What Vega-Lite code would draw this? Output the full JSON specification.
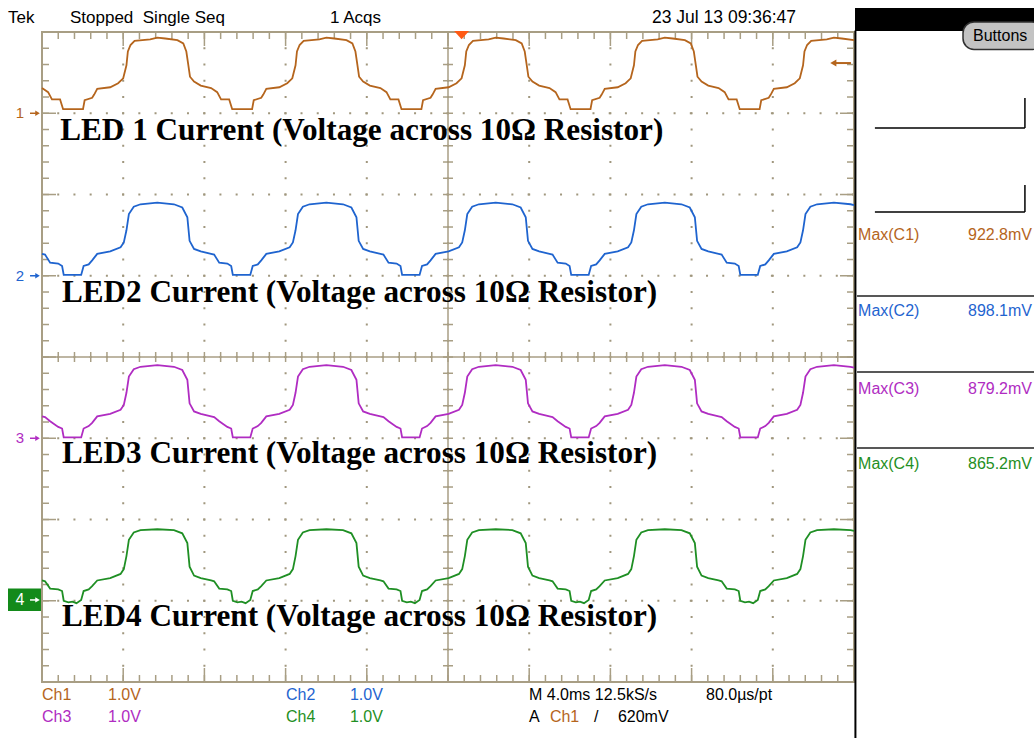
{
"$schema":"https://vega.github.io/schema/vega-lite/v6.json",
"width":1034,"height":738,"padding":0,"autosize":"none","background":"white",
"config":{"view":{"stroke":null},"axis":{"disable":true},"legend":{"disable":true}},
"datasets":{
"xm":[{"t":0},{"t":0.8},{"t":1.6},{"t":2.4},{"t":3.2},{"t":4},{"t":4.8},{"t":5.6},{"t":6.4},{"t":7.2},{"t":8},{"t":8.8},{"t":9.6},{"t":10.4},{"t":11.2},{"t":12},{"t":12.8},{"t":13.6},{"t":14.4},{"t":15.2},{"t":16},{"t":16.8},{"t":17.6},{"t":18.4},{"t":19.2},{"t":20},{"t":20.8},{"t":21.6},{"t":22.4},{"t":23.2},{"t":24},{"t":24.8},{"t":25.6},{"t":26.4},{"t":27.2},{"t":28},{"t":28.8},{"t":29.6},{"t":30.4},{"t":31.2},{"t":32},{"t":32.8},{"t":33.6},{"t":34.4},{"t":35.2},{"t":36},{"t":36.8},{"t":37.6},{"t":38.4},{"t":39.2},{"t":40}],
"xM":[{"t":4},{"t":8},{"t":12},{"t":16},{"t":20},{"t":24},{"t":28},{"t":32},{"t":36}],
"ym":[{"v":0},{"v":0.2},{"v":0.4},{"v":0.6},{"v":0.8},{"v":1},{"v":1.2},{"v":1.4},{"v":1.6},{"v":1.8},{"v":2},{"v":2.2},{"v":2.4},{"v":2.6},{"v":2.8},{"v":3},{"v":3.2},{"v":3.4},{"v":3.6},{"v":3.8},{"v":4},{"v":4.2},{"v":4.4},{"v":4.6},{"v":4.8},{"v":5},{"v":5.2},{"v":5.4},{"v":5.6},{"v":5.8},{"v":6},{"v":6.2},{"v":6.4},{"v":6.6},{"v":6.8},{"v":7},{"v":7.2},{"v":7.4},{"v":7.6},{"v":7.8},{"v":8}],
"yM":[{"v":1},{"v":2},{"v":3},{"v":4},{"v":5},{"v":6},{"v":7}],
"ch1":[{"t":0,"y":7.31},{"t":0.3,"y":7.26},{"t":0.49,"y":7.17},{"t":0.89,"y":7.17},{"t":1.04,"y":7.05},{"t":2.02,"y":7.05},{"t":2.1,"y":7.16},{"t":2.47,"y":7.19},{"t":2.57,"y":7.23},{"t":2.72,"y":7.3},{"t":3.36,"y":7.32},{"t":3.75,"y":7.37},{"t":4,"y":7.43},{"t":4.16,"y":7.59},{"t":4.23,"y":7.76},{"t":4.36,"y":7.84},{"t":4.56,"y":7.89},{"t":5.33,"y":7.91},{"t":5.68,"y":7.93},{"t":6.07,"y":7.92},{"t":6.67,"y":7.9},{"t":6.96,"y":7.86},{"t":7.11,"y":7.76},{"t":7.21,"y":7.59},{"t":7.29,"y":7.45},{"t":7.49,"y":7.39},{"t":7.82,"y":7.34},
{"t":8.33,"y":7.31},{"t":8.63,"y":7.26},{"t":8.82,"y":7.17},{"t":9.22,"y":7.17},{"t":9.37,"y":7.05},{"t":10.35,"y":7.05},{"t":10.43,"y":7.16},{"t":10.8,"y":7.19},{"t":10.9,"y":7.23},{"t":11.05,"y":7.3},{"t":11.69,"y":7.32},{"t":12.08,"y":7.37},{"t":12.33,"y":7.43},{"t":12.49,"y":7.59},{"t":12.56,"y":7.76},{"t":12.69,"y":7.84},{"t":12.89,"y":7.89},{"t":13.66,"y":7.91},{"t":14.01,"y":7.93},{"t":14.4,"y":7.92},{"t":15,"y":7.9},{"t":15.29,"y":7.86},{"t":15.44,"y":7.76},{"t":15.54,"y":7.59},{"t":15.62,"y":7.45},{"t":15.82,"y":7.39},{"t":16.15,"y":7.34},
{"t":16.67,"y":7.31},{"t":16.97,"y":7.26},{"t":17.16,"y":7.17},{"t":17.56,"y":7.17},{"t":17.71,"y":7.05},{"t":18.69,"y":7.05},{"t":18.77,"y":7.16},{"t":19.14,"y":7.19},{"t":19.24,"y":7.23},{"t":19.39,"y":7.3},{"t":20.03,"y":7.32},{"t":20.42,"y":7.37},{"t":20.67,"y":7.43},{"t":20.83,"y":7.59},{"t":20.9,"y":7.76},{"t":21.03,"y":7.84},{"t":21.23,"y":7.89},{"t":22,"y":7.91},{"t":22.35,"y":7.93},{"t":22.74,"y":7.92},{"t":23.34,"y":7.9},{"t":23.63,"y":7.86},{"t":23.78,"y":7.76},{"t":23.88,"y":7.59},{"t":23.96,"y":7.45},{"t":24.16,"y":7.39},{"t":24.49,"y":7.34},
{"t":25,"y":7.31},{"t":25.3,"y":7.26},{"t":25.49,"y":7.17},{"t":25.89,"y":7.17},{"t":26.04,"y":7.05},{"t":27.02,"y":7.05},{"t":27.1,"y":7.16},{"t":27.47,"y":7.19},{"t":27.57,"y":7.23},{"t":27.72,"y":7.3},{"t":28.36,"y":7.32},{"t":28.75,"y":7.37},{"t":29,"y":7.43},{"t":29.16,"y":7.59},{"t":29.23,"y":7.76},{"t":29.36,"y":7.84},{"t":29.56,"y":7.89},{"t":30.33,"y":7.91},{"t":30.68,"y":7.93},{"t":31.07,"y":7.92},{"t":31.67,"y":7.9},{"t":31.96,"y":7.86},{"t":32.11,"y":7.76},{"t":32.21,"y":7.59},{"t":32.29,"y":7.45},{"t":32.49,"y":7.39},{"t":32.82,"y":7.34},
{"t":33.33,"y":7.31},{"t":33.63,"y":7.26},{"t":33.82,"y":7.17},{"t":34.22,"y":7.17},{"t":34.37,"y":7.05},{"t":35.35,"y":7.05},{"t":35.43,"y":7.16},{"t":35.8,"y":7.19},{"t":35.9,"y":7.23},{"t":36.05,"y":7.3},{"t":36.69,"y":7.32},{"t":37.08,"y":7.37},{"t":37.33,"y":7.43},{"t":37.49,"y":7.59},{"t":37.56,"y":7.76},{"t":37.69,"y":7.84},{"t":37.89,"y":7.89},{"t":38.66,"y":7.91},{"t":39.01,"y":7.93},{"t":39.4,"y":7.92},{"t":40,"y":7.9}],
"ch2":[{"t":0,"y":5.27},{"t":0.15,"y":5.26},{"t":0.4,"y":5.16},{"t":0.8,"y":5.15},{"t":0.99,"y":5.12},{"t":1.07,"y":5.01},{"t":1.93,"y":5.01},{"t":2.05,"y":5.12},{"t":2.3,"y":5.14},{"t":2.47,"y":5.19},{"t":2.72,"y":5.27},{"t":3.36,"y":5.3},{"t":3.87,"y":5.35},{"t":4.03,"y":5.41},{"t":4.16,"y":5.56},{"t":4.28,"y":5.76},{"t":4.52,"y":5.85},{"t":4.85,"y":5.88},{"t":5.68,"y":5.9},{"t":6.5,"y":5.88},{"t":6.91,"y":5.84},{"t":7.16,"y":5.72},{"t":7.27,"y":5.43},{"t":7.49,"y":5.33},{"t":7.82,"y":5.3},
{"t":8.33,"y":5.27},{"t":8.48,"y":5.26},{"t":8.73,"y":5.16},{"t":9.13,"y":5.15},{"t":9.32,"y":5.12},{"t":9.4,"y":5.01},{"t":10.26,"y":5.01},{"t":10.38,"y":5.12},{"t":10.63,"y":5.14},{"t":10.8,"y":5.19},{"t":11.05,"y":5.27},{"t":11.69,"y":5.3},{"t":12.2,"y":5.35},{"t":12.36,"y":5.41},{"t":12.49,"y":5.56},{"t":12.61,"y":5.76},{"t":12.85,"y":5.85},{"t":13.18,"y":5.88},{"t":14.01,"y":5.9},{"t":14.83,"y":5.88},{"t":15.24,"y":5.84},{"t":15.49,"y":5.72},{"t":15.6,"y":5.43},{"t":15.82,"y":5.33},{"t":16.15,"y":5.3},
{"t":16.67,"y":5.27},{"t":16.82,"y":5.26},{"t":17.07,"y":5.16},{"t":17.47,"y":5.15},{"t":17.66,"y":5.12},{"t":17.74,"y":5.01},{"t":18.6,"y":5.01},{"t":18.72,"y":5.12},{"t":18.97,"y":5.14},{"t":19.14,"y":5.19},{"t":19.39,"y":5.27},{"t":20.03,"y":5.3},{"t":20.54,"y":5.35},{"t":20.7,"y":5.41},{"t":20.83,"y":5.56},{"t":20.95,"y":5.76},{"t":21.19,"y":5.85},{"t":21.52,"y":5.88},{"t":22.35,"y":5.9},{"t":23.17,"y":5.88},{"t":23.58,"y":5.84},{"t":23.83,"y":5.72},{"t":23.94,"y":5.43},{"t":24.16,"y":5.33},{"t":24.49,"y":5.3},
{"t":25,"y":5.27},{"t":25.15,"y":5.26},{"t":25.4,"y":5.16},{"t":25.8,"y":5.15},{"t":25.99,"y":5.12},{"t":26.07,"y":5.01},{"t":26.93,"y":5.01},{"t":27.05,"y":5.12},{"t":27.3,"y":5.14},{"t":27.47,"y":5.19},{"t":27.72,"y":5.27},{"t":28.36,"y":5.3},{"t":28.87,"y":5.35},{"t":29.03,"y":5.41},{"t":29.16,"y":5.56},{"t":29.28,"y":5.76},{"t":29.52,"y":5.85},{"t":29.85,"y":5.88},{"t":30.68,"y":5.9},{"t":31.5,"y":5.88},{"t":31.91,"y":5.84},{"t":32.16,"y":5.72},{"t":32.27,"y":5.43},{"t":32.49,"y":5.33},{"t":32.82,"y":5.3},
{"t":33.33,"y":5.27},{"t":33.48,"y":5.26},{"t":33.73,"y":5.16},{"t":34.13,"y":5.15},{"t":34.32,"y":5.12},{"t":34.4,"y":5.01},{"t":35.26,"y":5.01},{"t":35.38,"y":5.12},{"t":35.63,"y":5.14},{"t":35.8,"y":5.19},{"t":36.05,"y":5.27},{"t":36.69,"y":5.3},{"t":37.2,"y":5.35},{"t":37.36,"y":5.41},{"t":37.49,"y":5.56},{"t":37.61,"y":5.76},{"t":37.85,"y":5.85},{"t":38.18,"y":5.88},{"t":39.01,"y":5.9},{"t":39.83,"y":5.88},{"t":40,"y":5.87}],
"ch3":[{"t":0,"y":3.27},{"t":0.15,"y":3.26},{"t":0.4,"y":3.21},{"t":0.8,"y":3.14},{"t":0.99,"y":3.12},{"t":1.07,"y":3.01},{"t":1.93,"y":3.01},{"t":2.05,"y":3.12},{"t":2.3,"y":3.15},{"t":2.47,"y":3.19},{"t":2.72,"y":3.27},{"t":3.36,"y":3.3},{"t":3.87,"y":3.35},{"t":4.03,"y":3.41},{"t":4.16,"y":3.56},{"t":4.28,"y":3.76},{"t":4.52,"y":3.85},{"t":4.85,"y":3.88},{"t":5.68,"y":3.9},{"t":6.5,"y":3.88},{"t":6.91,"y":3.84},{"t":7.16,"y":3.72},{"t":7.27,"y":3.43},{"t":7.49,"y":3.33},{"t":7.82,"y":3.3},
{"t":8.33,"y":3.27},{"t":8.48,"y":3.26},{"t":8.73,"y":3.21},{"t":9.13,"y":3.14},{"t":9.32,"y":3.12},{"t":9.4,"y":3.01},{"t":10.26,"y":3.01},{"t":10.38,"y":3.12},{"t":10.63,"y":3.15},{"t":10.8,"y":3.19},{"t":11.05,"y":3.27},{"t":11.69,"y":3.3},{"t":12.2,"y":3.35},{"t":12.36,"y":3.41},{"t":12.49,"y":3.56},{"t":12.61,"y":3.76},{"t":12.85,"y":3.85},{"t":13.18,"y":3.88},{"t":14.01,"y":3.9},{"t":14.83,"y":3.88},{"t":15.24,"y":3.84},{"t":15.49,"y":3.72},{"t":15.6,"y":3.43},{"t":15.82,"y":3.33},{"t":16.15,"y":3.3},
{"t":16.67,"y":3.27},{"t":16.82,"y":3.26},{"t":17.07,"y":3.21},{"t":17.47,"y":3.14},{"t":17.66,"y":3.12},{"t":17.74,"y":3.01},{"t":18.6,"y":3.01},{"t":18.72,"y":3.12},{"t":18.97,"y":3.15},{"t":19.14,"y":3.19},{"t":19.39,"y":3.27},{"t":20.03,"y":3.3},{"t":20.54,"y":3.35},{"t":20.7,"y":3.41},{"t":20.83,"y":3.56},{"t":20.95,"y":3.76},{"t":21.19,"y":3.85},{"t":21.52,"y":3.88},{"t":22.35,"y":3.9},{"t":23.17,"y":3.88},{"t":23.58,"y":3.84},{"t":23.83,"y":3.72},{"t":23.94,"y":3.43},{"t":24.16,"y":3.33},{"t":24.49,"y":3.3},
{"t":25,"y":3.27},{"t":25.15,"y":3.26},{"t":25.4,"y":3.21},{"t":25.8,"y":3.14},{"t":25.99,"y":3.12},{"t":26.07,"y":3.01},{"t":26.93,"y":3.01},{"t":27.05,"y":3.12},{"t":27.3,"y":3.15},{"t":27.47,"y":3.19},{"t":27.72,"y":3.27},{"t":28.36,"y":3.3},{"t":28.87,"y":3.35},{"t":29.03,"y":3.41},{"t":29.16,"y":3.56},{"t":29.28,"y":3.76},{"t":29.52,"y":3.85},{"t":29.85,"y":3.88},{"t":30.68,"y":3.9},{"t":31.5,"y":3.88},{"t":31.91,"y":3.84},{"t":32.16,"y":3.72},{"t":32.27,"y":3.43},{"t":32.49,"y":3.33},{"t":32.82,"y":3.3},
{"t":33.33,"y":3.27},{"t":33.48,"y":3.26},{"t":33.73,"y":3.21},{"t":34.13,"y":3.14},{"t":34.32,"y":3.12},{"t":34.4,"y":3.01},{"t":35.26,"y":3.01},{"t":35.38,"y":3.12},{"t":35.63,"y":3.15},{"t":35.8,"y":3.19},{"t":36.05,"y":3.27},{"t":36.69,"y":3.3},{"t":37.2,"y":3.35},{"t":37.36,"y":3.41},{"t":37.49,"y":3.56},{"t":37.61,"y":3.76},{"t":37.85,"y":3.85},{"t":38.18,"y":3.88},{"t":39.01,"y":3.9},{"t":39.83,"y":3.88},{"t":40,"y":3.87}],
"ch4":[{"t":0,"y":1.25},{"t":0.15,"y":1.24},{"t":0.4,"y":1.15},{"t":0.8,"y":1.14},{"t":0.99,"y":1.12},{"t":1.07,"y":1.0},{"t":1.3,"y":0.98},{"t":1.5,"y":0.99},{"t":1.7,"y":0.97},{"t":1.93,"y":1.01},{"t":2.05,"y":1.12},{"t":2.3,"y":1.14},{"t":2.47,"y":1.18},{"t":2.72,"y":1.25},{"t":3.36,"y":1.28},{"t":3.87,"y":1.33},{"t":4.03,"y":1.39},{"t":4.16,"y":1.55},{"t":4.28,"y":1.75},{"t":4.52,"y":1.84},{"t":4.85,"y":1.87},{"t":5.68,"y":1.88},{"t":6.5,"y":1.87},{"t":6.91,"y":1.83},{"t":7.16,"y":1.71},{"t":7.27,"y":1.42},{"t":7.49,"y":1.31},{"t":7.82,"y":1.28},
{"t":8.33,"y":1.25},{"t":8.48,"y":1.24},{"t":8.73,"y":1.15},{"t":9.13,"y":1.14},{"t":9.32,"y":1.12},{"t":9.4,"y":1.0},{"t":9.63,"y":0.98},{"t":9.83,"y":0.99},{"t":10.03,"y":0.97},{"t":10.26,"y":1.01},{"t":10.38,"y":1.12},{"t":10.63,"y":1.14},{"t":10.8,"y":1.18},{"t":11.05,"y":1.25},{"t":11.69,"y":1.28},{"t":12.2,"y":1.33},{"t":12.36,"y":1.39},{"t":12.49,"y":1.55},{"t":12.61,"y":1.75},{"t":12.85,"y":1.84},{"t":13.18,"y":1.87},{"t":14.01,"y":1.88},{"t":14.83,"y":1.87},{"t":15.24,"y":1.83},{"t":15.49,"y":1.71},{"t":15.6,"y":1.42},{"t":15.82,"y":1.31},{"t":16.15,"y":1.28},
{"t":16.67,"y":1.25},{"t":16.82,"y":1.24},{"t":17.07,"y":1.15},{"t":17.47,"y":1.14},{"t":17.66,"y":1.12},{"t":17.74,"y":1.0},{"t":17.97,"y":0.98},{"t":18.17,"y":0.99},{"t":18.37,"y":0.97},{"t":18.6,"y":1.01},{"t":18.72,"y":1.12},{"t":18.97,"y":1.14},{"t":19.14,"y":1.18},{"t":19.39,"y":1.25},{"t":20.03,"y":1.28},{"t":20.54,"y":1.33},{"t":20.7,"y":1.39},{"t":20.83,"y":1.55},{"t":20.95,"y":1.75},{"t":21.19,"y":1.84},{"t":21.52,"y":1.87},{"t":22.35,"y":1.88},{"t":23.17,"y":1.87},{"t":23.58,"y":1.83},{"t":23.83,"y":1.71},{"t":23.94,"y":1.42},{"t":24.16,"y":1.31},{"t":24.49,"y":1.28},
{"t":25,"y":1.25},{"t":25.15,"y":1.24},{"t":25.4,"y":1.15},{"t":25.8,"y":1.14},{"t":25.99,"y":1.12},{"t":26.07,"y":1.0},{"t":26.3,"y":0.98},{"t":26.5,"y":0.99},{"t":26.7,"y":0.97},{"t":26.93,"y":1.01},{"t":27.05,"y":1.12},{"t":27.3,"y":1.14},{"t":27.47,"y":1.18},{"t":27.72,"y":1.25},{"t":28.36,"y":1.28},{"t":28.87,"y":1.33},{"t":29.03,"y":1.39},{"t":29.16,"y":1.55},{"t":29.28,"y":1.75},{"t":29.52,"y":1.84},{"t":29.85,"y":1.87},{"t":30.68,"y":1.88},{"t":31.5,"y":1.87},{"t":31.91,"y":1.83},{"t":32.16,"y":1.71},{"t":32.27,"y":1.42},{"t":32.49,"y":1.31},{"t":32.82,"y":1.28},
{"t":33.33,"y":1.25},{"t":33.48,"y":1.24},{"t":33.73,"y":1.15},{"t":34.13,"y":1.14},{"t":34.32,"y":1.12},{"t":34.4,"y":1.0},{"t":34.63,"y":0.98},{"t":34.83,"y":0.99},{"t":35.03,"y":0.97},{"t":35.26,"y":1.01},{"t":35.38,"y":1.12},{"t":35.63,"y":1.14},{"t":35.8,"y":1.18},{"t":36.05,"y":1.25},{"t":36.69,"y":1.28},{"t":37.2,"y":1.33},{"t":37.36,"y":1.39},{"t":37.49,"y":1.55},{"t":37.61,"y":1.75},{"t":37.85,"y":1.84},{"t":38.18,"y":1.87},{"t":39.01,"y":1.88},{"t":39.83,"y":1.87},{"t":40,"y":1.86}]
},
"layer":[
{"data":{"values":[{}]},"mark":{"type":"rect","fillOpacity":0,"stroke":"#a89e84","strokeWidth":2},
 "encoding":{"x":{"datum":0,"type":"quantitative","scale":{"domain":[-2.069,48.867],"nice":false,"zero":false}},"x2":{"datum":40},
 "y":{"datum":0,"type":"quantitative","scale":{"domain":[-0.689,8.394],"nice":false,"zero":false}},"y2":{"datum":8}}},
{"data":{"name":"xM"},"mark":{"type":"rule","color":"#a0977e","strokeWidth":2,"strokeDash":[2,14.25],"strokeDashOffset":1},
 "encoding":{"x":{"field":"t","type":"quantitative"},"y":{"datum":0},"y2":{"datum":8}}},
{"data":{"name":"yM"},"mark":{"type":"rule","color":"#a0977e","strokeWidth":2,"strokeDash":[2,14.22],"strokeDashOffset":1},
 "encoding":{"y":{"field":"v","type":"quantitative"},"x":{"datum":0},"x2":{"datum":40}}},
{"data":{"values":[{}]},"mark":{"type":"rule","color":"#a89e84","strokeWidth":1.5},"encoding":{"x":{"datum":20},"y":{"datum":0},"y2":{"datum":8}}},
{"data":{"values":[{}]},"mark":{"type":"rule","color":"#a89e84","strokeWidth":1.5},"encoding":{"y":{"datum":4},"x":{"datum":0},"x2":{"datum":40}}},
{"data":{"name":"xm"},"mark":{"type":"tick","orient":"vertical","size":7,"thickness":1.5,"yOffset":3.5,"color":"#a89e84","opacity":1},"encoding":{"x":{"field":"t","type":"quantitative"},"y":{"datum":8}}},
{"data":{"name":"xm"},"mark":{"type":"tick","orient":"vertical","size":7,"thickness":1.5,"yOffset":-3.5,"color":"#a89e84","opacity":1},"encoding":{"x":{"field":"t","type":"quantitative"},"y":{"datum":0}}},
{"data":{"name":"xm"},"mark":{"type":"tick","orient":"vertical","size":10,"thickness":1.5,"color":"#a89e84","opacity":1},"encoding":{"x":{"field":"t","type":"quantitative"},"y":{"datum":4}}},
{"data":{"name":"xM"},"mark":{"type":"tick","orient":"vertical","size":14,"thickness":1.5,"yOffset":7,"color":"#a89e84","opacity":1},"encoding":{"x":{"field":"t","type":"quantitative"},"y":{"datum":8}}},
{"data":{"name":"xM"},"mark":{"type":"tick","orient":"vertical","size":14,"thickness":1.5,"yOffset":-7,"color":"#a89e84","opacity":1},"encoding":{"x":{"field":"t","type":"quantitative"},"y":{"datum":0}}},
{"data":{"name":"ym"},"mark":{"type":"tick","orient":"horizontal","size":7,"thickness":1.5,"xOffset":3.5,"color":"#a89e84","opacity":1},"encoding":{"y":{"field":"v","type":"quantitative"},"x":{"datum":0}}},
{"data":{"name":"ym"},"mark":{"type":"tick","orient":"horizontal","size":7,"thickness":1.5,"xOffset":-3.5,"color":"#a89e84","opacity":1},"encoding":{"y":{"field":"v","type":"quantitative"},"x":{"datum":40}}},
{"data":{"name":"ym"},"mark":{"type":"tick","orient":"horizontal","size":10,"thickness":1.5,"color":"#a89e84","opacity":1},"encoding":{"y":{"field":"v","type":"quantitative"},"x":{"datum":20}}},
{"data":{"name":"yM"},"mark":{"type":"tick","orient":"horizontal","size":14,"thickness":1.5,"xOffset":7,"color":"#a89e84","opacity":1},"encoding":{"y":{"field":"v","type":"quantitative"},"x":{"datum":0}}},
{"data":{"name":"yM"},"mark":{"type":"tick","orient":"horizontal","size":14,"thickness":1.5,"xOffset":-7,"color":"#a89e84","opacity":1},"encoding":{"y":{"field":"v","type":"quantitative"},"x":{"datum":40}}},
{"data":{"name":"ch1"},"mark":{"type":"line","color":"#b5651d","strokeWidth":1.8},"encoding":{"x":{"field":"t","type":"quantitative"},"y":{"field":"y","type":"quantitative"}}},
{"data":{"name":"ch2"},"mark":{"type":"line","color":"#1f64cf","strokeWidth":1.8},"encoding":{"x":{"field":"t","type":"quantitative"},"y":{"field":"y","type":"quantitative"}}},
{"data":{"name":"ch3"},"mark":{"type":"line","color":"#b02cc2","strokeWidth":1.8},"encoding":{"x":{"field":"t","type":"quantitative"},"y":{"field":"y","type":"quantitative"}}},
{"data":{"name":"ch4"},"mark":{"type":"line","color":"#1f8f24","strokeWidth":1.8},"encoding":{"x":{"field":"t","type":"quantitative"},"y":{"field":"y","type":"quantitative"}}},
{"data":{"values":[{}]},"mark":{"type":"text","text":"LED 1 Current (Voltage across 10Ω Resistor)","font":"Liberation Serif","fontWeight":"bold","fontSize":31.2,"align":"left","baseline":"alphabetic","color":"#000000"},"encoding":{"x":{"datum":0.9},"y":{"datum":6.671}}},
{"data":{"values":[{}]},"mark":{"type":"text","text":"LED2 Current (Voltage across 10Ω Resistor)","font":"Liberation Serif","fontWeight":"bold","fontSize":31.2,"align":"left","baseline":"alphabetic","color":"#000000"},"encoding":{"x":{"datum":0.985},"y":{"datum":4.677}}},
{"data":{"values":[{}]},"mark":{"type":"text","text":"LED3 Current (Voltage across 10Ω Resistor)","font":"Liberation Serif","fontWeight":"bold","fontSize":31.2,"align":"left","baseline":"alphabetic","color":"#000000"},"encoding":{"x":{"datum":0.985},"y":{"datum":2.695}}},
{"data":{"values":[{}]},"mark":{"type":"text","text":"LED4 Current (Voltage across 10Ω Resistor)","font":"Liberation Serif","fontWeight":"bold","fontSize":31.2,"align":"left","baseline":"alphabetic","color":"#000000"},"encoding":{"x":{"datum":0.985},"y":{"datum":0.689}}},
{"data":{"values":[{}]},"mark":{"type":"point","shape":"M-1,-0.55L1,-0.55L0,0.55Z","size":225,"filled":true,"opacity":1,"color":"#ff5a14"},"encoding":{"x":{"datum":20.67},"y":{"datum":7.963}}},
{"data":{"values":[{}]},"mark":{"type":"rule","color":"#b5651d","strokeWidth":2},"encoding":{"x":{"datum":39.1},"x2":{"datum":39.85},"y":{"datum":7.618}}},
{"data":{"values":[{}]},"mark":{"type":"point","shape":"triangle-left","size":50,"filled":true,"opacity":1,"color":"#b5651d"},"encoding":{"x":{"datum":38.98},"y":{"datum":7.618}}},
{"data":{"values":[{}]},"mark":{"type":"text","text":"1","font":"Liberation Sans","fontSize":15,"align":"center","baseline":"middle","color":"#b5651d"},"encoding":{"x":{"datum":-1.084},"y":{"datum":7}}},
{"data":{"values":[{}]},"mark":{"type":"text","text":"2","font":"Liberation Sans","fontSize":15,"align":"center","baseline":"middle","color":"#1f64cf"},"encoding":{"x":{"datum":-1.084},"y":{"datum":5}}},
{"data":{"values":[{}]},"mark":{"type":"text","text":"3","font":"Liberation Sans","fontSize":15,"align":"center","baseline":"middle","color":"#b02cc2"},"encoding":{"x":{"datum":-1.084},"y":{"datum":3}}},
{"data":{"values":[{}]},"mark":{"type":"rect","color":"#138a1a","opacity":1},"encoding":{"x":{"datum":-1.675},"x2":{"datum":-0.05},"y":{"datum":0.874},"y2":{"datum":1.15}}},
{"data":{"values":[{}]},"mark":{"type":"text","text":"4","font":"Liberation Sans","fontSize":16,"align":"center","baseline":"middle","color":"#ffffff"},"encoding":{"x":{"datum":-1.084},"y":{"datum":1.01}}},
{"data":{"values":[{"g":7,"c":"#b5651d"},{"g":5,"c":"#1f64cf"},{"g":3,"c":"#b02cc2"},{"g":1.01,"c":"#ffffff"}]},"mark":{"type":"rule","strokeWidth":1.5},"encoding":{"x":{"datum":-0.59},"x2":{"datum":-0.3},"y":{"field":"g","type":"quantitative"},"color":{"field":"c","type":"nominal","scale":null}}},
{"data":{"values":[{"g":7,"c":"#b5651d"},{"g":5,"c":"#1f64cf"},{"g":3,"c":"#b02cc2"},{"g":1.01,"c":"#ffffff"}]},"mark":{"type":"point","shape":"triangle-right","size":28,"filled":true,"opacity":1},"encoding":{"x":{"datum":-0.22},"y":{"field":"g","type":"quantitative"},"color":{"field":"c","type":"nominal","scale":null}}},
{"data":{"values":[{}]},"mark":{"type":"text","text":"Tek","font":"Liberation Sans","fontSize":17,"align":"left","baseline":"middle","color":"#000000"},"encoding":{"x":{"datum":-1.675},"y":{"datum":8.172}}},
{"data":{"values":[{}]},"mark":{"type":"text","text":"Stopped\u00a0\u00a0Single Seq","font":"Liberation Sans","fontSize":17,"align":"left","baseline":"middle","color":"#000000"},"encoding":{"x":{"datum":1.379},"y":{"datum":8.172}}},
{"data":{"values":[{}]},"mark":{"type":"text","text":"1 Acqs","font":"Liberation Sans","fontSize":17,"align":"left","baseline":"middle","color":"#000000"},"encoding":{"x":{"datum":14.187},"y":{"datum":8.172}}},
{"data":{"values":[{}]},"mark":{"type":"text","text":"23 Jul 13 09:36:47","font":"Liberation Sans","fontSize":17.5,"align":"left","baseline":"middle","color":"#000000"},"encoding":{"x":{"datum":30.05},"y":{"datum":8.172}}},
{"data":{"values":[{}]},"mark":{"type":"rect","color":"#000000","opacity":1},"encoding":{"x":{"datum":40.05},"x2":{"datum":48.867},"y":{"datum":8.012},"y2":{"datum":8.295}}},
{"data":{"values":[{}]},"mark":{"type":"rule","color":"#000000","strokeWidth":2},"encoding":{"x":{"datum":40.07},"y":{"datum":-0.689},"y2":{"datum":8.02}}},
{"data":{"values":[{}]},"mark":{"type":"rect","fill":"#c3c3c3","stroke":"#303030","strokeWidth":1.5,"cornerRadius":11,"opacity":1},"encoding":{"x":{"datum":45.37},"x2":{"datum":49.3},"y":{"datum":7.785},"y2":{"datum":8.123}}},
{"data":{"values":[{}]},"mark":{"type":"text","text":"Buttons","font":"Liberation Sans","fontSize":16,"align":"center","baseline":"middle","color":"#000000"},"encoding":{"x":{"datum":47.2},"y":{"datum":7.95}}},
{"data":{"values":[{"a":41.03,"b":48.42,"y":6.818},{"a":41.03,"b":48.42,"y":5.785}]},"mark":{"type":"rule","color":"#000000","strokeWidth":1.5},"encoding":{"x":{"field":"a","type":"quantitative"},"x2":{"field":"b"},"y":{"field":"y","type":"quantitative"}}},
{"data":{"values":[{"x":48.42,"a":6.818,"b":7.188},{"x":48.42,"a":5.785,"b":6.117}]},"mark":{"type":"rule","color":"#000000","strokeWidth":1.5},"encoding":{"x":{"field":"x","type":"quantitative"},"y":{"field":"a","type":"quantitative"},"y2":{"field":"b"}}},
{"data":{"values":[{"y":4.751},{"y":3.815},{"y":2.88}]},"mark":{"type":"rule","color":"#202020","strokeWidth":1.5},"encoding":{"x":{"datum":40.15},"x2":{"datum":48.867},"y":{"field":"y","type":"quantitative"}}},
{"data":{"values":[{"k":"Max(C1)","m":"922.8mV","y":5.502,"c":"#b5651d"},{"k":"Max(C2)","m":"898.1mV","y":4.566,"c":"#1f64cf"},{"k":"Max(C3)","m":"879.2mV","y":3.606,"c":"#b02cc2"},{"k":"Max(C4)","m":"865.2mV","y":2.683,"c":"#1f8f24"}]},
 "layer":[
 {"mark":{"type":"text","font":"Liberation Sans","fontSize":16,"align":"left","baseline":"middle"},"encoding":{"x":{"datum":40.2},"y":{"field":"y","type":"quantitative"},"text":{"field":"k"},"color":{"field":"c","type":"nominal","scale":null}}},
 {"mark":{"type":"text","font":"Liberation Sans","fontSize":16,"align":"right","baseline":"middle"},"encoding":{"x":{"datum":48.77},"y":{"field":"y","type":"quantitative"},"text":{"field":"m"},"color":{"field":"c","type":"nominal","scale":null}}}
 ]},
{"data":{"values":[{"s":"Ch1","x":0,"y":-0.16,"c":"#b5651d"},{"s":"1.0V","x":3.251,"y":-0.16,"c":"#b5651d"},{"s":"Ch2","x":12.02,"y":-0.16,"c":"#1f64cf"},{"s":"1.0V","x":15.17,"y":-0.16,"c":"#1f64cf"},{"s":"M 4.0ms 12.5kS/s","x":23.99,"y":-0.16,"c":"#000000"},{"s":"80.0µs/pt","x":32.71,"y":-0.16,"c":"#000000"},
 {"s":"Ch3","x":0,"y":-0.43,"c":"#b02cc2"},{"s":"1.0V","x":3.251,"y":-0.43,"c":"#b02cc2"},{"s":"Ch4","x":12.02,"y":-0.43,"c":"#1f8f24"},{"s":"1.0V","x":15.17,"y":-0.43,"c":"#1f8f24"},{"s":"A","x":23.99,"y":-0.43,"c":"#000000"},{"s":"Ch1","x":25.02,"y":-0.43,"c":"#b5651d"},{"s":"/","x":27.19,"y":-0.43,"c":"#000000"},{"s":"620mV","x":28.37,"y":-0.43,"c":"#000000"}]},
 "mark":{"type":"text","font":"Liberation Sans","fontSize":16,"align":"left","baseline":"middle"},
 "encoding":{"x":{"field":"x","type":"quantitative"},"y":{"field":"y","type":"quantitative"},"text":{"field":"s"},"color":{"field":"c","type":"nominal","scale":null}}}
]
}
